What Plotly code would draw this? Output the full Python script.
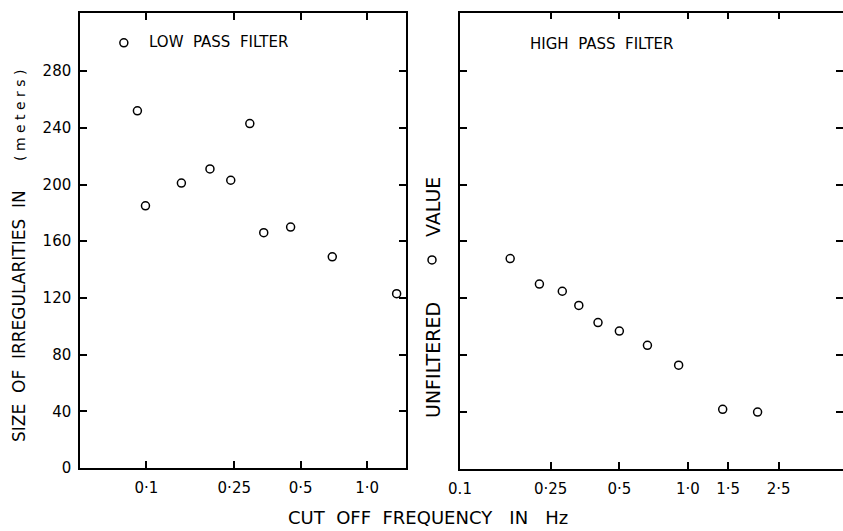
import plotly.graph_objects as go

# Low pass filter data (cut-off frequency Hz, size m)
low_f = [0.091, 0.099, 0.144, 0.194, 0.241, 0.294, 0.34, 0.45, 0.695, 1.36]
low_size = [252, 185, 201, 211, 203, 243, 166, 170, 149, 123]

# High pass filter data
high_f = [0.166, 0.223, 0.281, 0.332, 0.403, 0.50, 0.664, 0.91, 1.42, 2.02]
high_size = [148, 130, 125, 115, 103, 97, 87, 73, 42, 40]

unfiltered_value = 147

low_xticks = [0.1, 0.25, 0.5, 1.0]
low_xtext = ["0·1", "0·25", "0·5", "1·0"]
high_xticks = [0.1, 0.25, 0.5, 1.0, 1.5, 2.5]
high_xtext = ["0.1", "0·25", "0·5", "1·0", "1·5", "2·5"]
yticks = [0, 40, 80, 120, 160, 200, 240, 280]

W, H = 843, 531


def px_x(x):
    return x / W


def px_y(y):
    return 1 - y / H


FONT = "DejaVu Sans"
marker = dict(symbol="circle-open", size=8, color="black", line=dict(width=1.5, color="black"))

fig = go.Figure()
fig.add_trace(go.Scatter(x=low_f, y=low_size, mode="markers", marker=marker,
                         xaxis="x", yaxis="y", showlegend=False))
# legend symbol for low pass filter
fig.add_trace(go.Scatter(x=[0.079], y=[300], mode="markers", marker=marker,
                         xaxis="x", yaxis="y", showlegend=False))
fig.add_trace(go.Scatter(x=high_f, y=high_size, mode="markers", marker=marker,
                         xaxis="x2", yaxis="y2", showlegend=False))

axis_common = dict(showline=True, linecolor="black", linewidth=1.5, mirror="ticks",
                   ticks="inside", ticklen=7, tickwidth=1.5, tickcolor="black",
                   showgrid=False, zeroline=False, automargin=False,
                   tickfont=dict(family=FONT, size=15, color="black"))

fig.update_layout(
    width=W, height=H,
    autosize=False,
    margin=dict(l=0, r=0, t=0, b=0, pad=0),
    plot_bgcolor="white", paper_bgcolor="white",
    xaxis=dict(type="log", domain=[px_x(80), px_x(406)], range=[-1.301, 0.176],
               tickvals=low_xticks, ticktext=low_xtext, anchor="y",
               ticklabelstandoff=5, **axis_common),
    yaxis=dict(domain=[px_y(468), px_y(13)], range=[0, 321], tickvals=yticks,
               anchor="x", ticklabelstandoff=4, **axis_common),
    xaxis2=dict(type="log", domain=[px_x(460), 1.0], range=[-1, 0.68],
                tickvals=high_xticks, ticktext=high_xtext, anchor="y2",
                ticklabelstandoff=5, **axis_common),
    yaxis2=dict(domain=[px_y(469), px_y(12.5)], range=[0, 321], tickvals=yticks,
                showticklabels=False, anchor="x2", **axis_common),
)

# unfiltered value marker beside the right panel axis
fig.add_shape(type="circle", xref="paper", yref="y2",
              xsizemode="pixel", ysizemode="pixel",
              xanchor=px_x(432), yanchor=unfiltered_value,
              x0=-4, x1=4, y0=-4, y1=4,
              line=dict(color="black", width=1.5))

annotations = [
    dict(text="LOW  PASS  FILTER", x=147, y=42, xanchor="left",
         font=dict(family=FONT, size=15, color="black")),
    dict(text="HIGH  PASS  FILTER", x=528, y=44, xanchor="left",
         font=dict(family=FONT, size=15, color="black")),
    dict(text="CUT  OFF  FREQUENCY   IN   Hz", x=428, y=517, xanchor="center",
         font=dict(family=FONT, size=18, color="black")),
    dict(text="SIZE  OF  IRREGULARITIES  IN", x=19, y=316, xanchor="center", textangle=-90,
         font=dict(family=FONT, size=17, color="black")),
    dict(text="( m e t e r s )", x=20, y=116, xanchor="center", textangle=-90,
         font=dict(family=FONT, size=14, color="black")),
    dict(text="UNFILTERED", x=433, y=360, xanchor="center", textangle=-90,
         font=dict(family=FONT, size=19, color="black")),
    dict(text="VALUE", x=433, y=207, xanchor="center", textangle=-90,
         font=dict(family=FONT, size=19, color="black")),
]
for a in annotations:
    a["x"] = px_x(a["x"])
    a["y"] = px_y(a["y"])
    a.update(xref="paper", yref="paper", yanchor="middle", showarrow=False)
fig.update_layout(annotations=annotations)

# remove the default page margin so the figure fills the window exactly
fig.write_html("out.html",
               config={"displayModeBar": False},
               post_script="document.body.style.margin='0';document.body.style.overflow='hidden';")
